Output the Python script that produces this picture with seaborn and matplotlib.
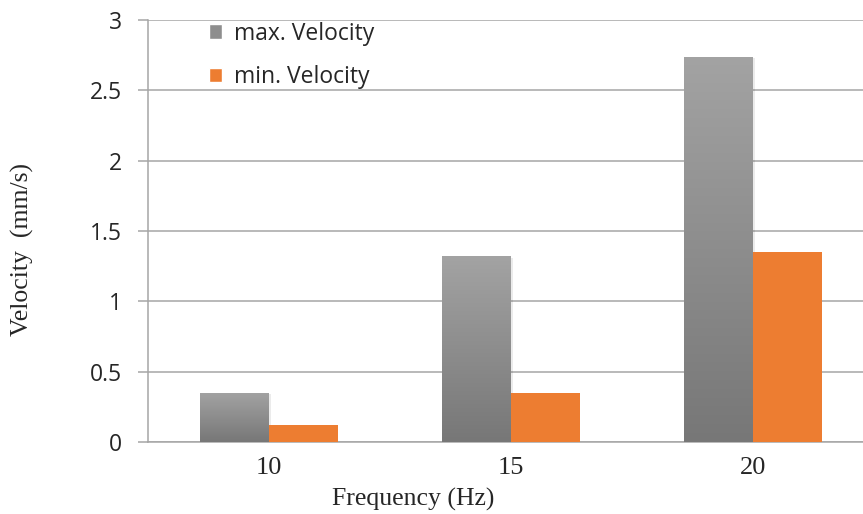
import matplotlib
matplotlib.use("Agg")
import matplotlib.pyplot as plt
import seaborn as sns
import numpy as np
import pandas as pd
from matplotlib.patches import Patch

frequencies = ["10", "15", "20"]
max_velocity = [0.35, 1.32, 2.74]
min_velocity = [0.12, 0.35, 1.35]
series = ["max. Velocity", "min. Velocity"]

df = pd.DataFrame({
    "Frequency": frequencies * 2,
    "Velocity": max_velocity + min_velocity,
    "Series": [series[0]] * 3 + [series[1]] * 3,
})

sns.set_style("white")
fig = plt.figure(figsize=(8.63, 5.14), dpi=100)
ax = fig.add_axes([148 / 863, 72 / 514, 726 / 863, 422 / 514])

sns.barplot(data=df, x="Frequency", y="Velocity", hue="Series",
            palette=["#a0a0a0", "#ed7d31"], width=0.57, gap=0,
            saturation=1, ax=ax, legend=False, zorder=3, linewidth=0)

# gradient on the grey bars (lighter top, darker bottom)
grad = np.linspace(0, 1, 256).reshape(-1, 1)
cmap = matplotlib.colors.LinearSegmentedColormap.from_list("g", ["#777777", "#a3a3a3"])
for bar in ax.patches[:3]:
    x0, y0 = bar.get_x(), bar.get_y()
    w, h = bar.get_width(), bar.get_height()
    im = ax.imshow(grad, extent=[x0, x0 + w, y0, y0 + h], aspect="auto",
                   cmap=cmap, zorder=3.5, origin="lower")
    im.set_clip_path(bar)
    ax.add_patch(plt.Rectangle((x0 + 0.008, y0), w, h - 0.01, color="#000000",
                               alpha=0.08, zorder=2.9, lw=0))

ax.set_xlim(-0.5, 2.5)
ax.set_ylim(0, 3)
ax.set_yticks(np.arange(0, 3.01, 0.5))
ax.set_yticklabels(["0", "0.5", "1", "1.5", "2", "2.5", "3"])
ax.yaxis.grid(True, color="#a6a6a6", linewidth=1.1, zorder=0)
ax.set_axisbelow(True)

for s in ["top", "right"]:
    ax.spines[s].set_visible(False)
for s in ["left", "bottom"]:
    ax.spines[s].set_color("#a6a6a6")
    ax.spines[s].set_linewidth(1.1)

ax.tick_params(axis="y", which="both", left=True, length=7, width=1.1,
               color="#a6a6a6", pad=12)
ax.tick_params(axis="x", bottom=False, pad=7)
for lab in ax.get_yticklabels():
    lab.set_fontfamily("Open Sans")
    lab.set_fontsize(16.5)
for lab in ax.get_xticklabels():
    lab.set_fontfamily("Liberation Serif")
    lab.set_fontsize(19)

ax.set_xlabel("Frequency (Hz)", fontfamily="Liberation Serif", fontsize=18.5)
ax.set_ylabel("Velocity  (mm/s)", fontfamily="Liberation Serif", fontsize=18.5)
ax.xaxis.set_label_coords((413 - 148) / 726, -46 / 422)
ax.yaxis.set_label_coords(-(148 - 34) / 726, (442 - 250) / 422)

handles = [Patch(facecolor="#8e8e8e", label=series[0]),
           Patch(facecolor="#ed7d31", label=series[1])]
leg = ax.legend(handles=handles, loc="upper left", bbox_to_anchor=(40 / 726, 1.045),
                frameon=False, handlelength=0.6, handleheight=0.6,
                handletextpad=0.5, labelspacing=0.85,
                prop={"family": "Open Sans", "size": 16.5})

fig.savefig("out.png", dpi=100)
